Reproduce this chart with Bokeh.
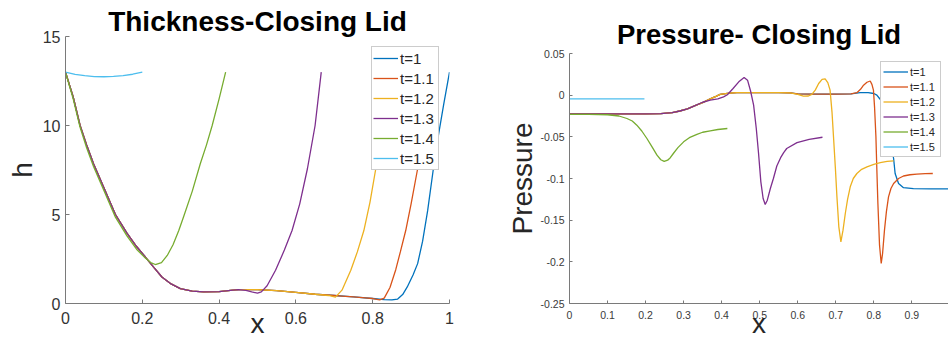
from bokeh.plotting import figure
from bokeh.layouts import row
from bokeh.models import FixedTicker, Range1d
from bokeh.embed import file_html
from bokeh.resources import INLINE

# ---------------- data: Thickness (h vs x) ----------------
labels = ["t=1", "t=1.1", "t=1.2", "t=1.3", "t=1.4", "t=1.5"]
colors = ["#0072BD", "#D95319", "#EDB120", "#7E2F8E", "#77AC30", "#4DBEEE"]

h_x_t10 = [0, 0.02, 0.038, 0.055, 0.073, 0.1, 0.13, 0.16, 0.185, 0.208, 0.23, 0.251, 0.275, 0.299, 0.33, 0.36, 0.4, 0.43, 0.45,
           0.5, 0.55, 0.6, 0.65, 0.7, 0.75, 0.8, 0.83, 0.85, 0.865, 0.878, 0.89, 0.905, 0.917, 0.93, 0.943, 0.958, 0.97, 0.985, 1.0]
h_t10 = [13, 11.6, 10, 8.9, 7.85, 6.5, 5.0, 3.95, 3.2, 2.61, 2.03, 1.49, 1.1, 0.84, 0.7, 0.65, 0.67, 0.74, 0.78,
         0.78, 0.72, 0.62, 0.52, 0.45, 0.37, 0.28, 0.22, 0.2, 0.25, 0.5, 0.93, 1.6, 2.24, 3.5, 5.2, 7.57, 9.3, 11.2, 13.0]

h_x_t11 = [0, 0.02, 0.038, 0.055, 0.073, 0.1, 0.13, 0.16, 0.185, 0.208, 0.23, 0.251, 0.275, 0.299, 0.33, 0.36, 0.4, 0.43, 0.45,
           0.5, 0.55, 0.6, 0.65, 0.7, 0.72, 0.75, 0.78, 0.8, 0.818, 0.83, 0.845, 0.86, 0.872, 0.886, 0.9, 0.917, 0.935, 0.952]
h_t11 = [13, 11.6, 10, 8.9, 7.85, 6.5, 5.0, 3.95, 3.2, 2.61, 2.03, 1.49, 1.1, 0.84, 0.7, 0.65, 0.67, 0.74, 0.78,
         0.78, 0.72, 0.62, 0.52, 0.45, 0.42, 0.37, 0.32, 0.28, 0.2, 0.3, 0.9, 1.9, 2.9, 4.1, 5.6, 7.57, 10.2, 13.0]

h_x_t12 = [0, 0.02, 0.038, 0.055, 0.073, 0.1, 0.13, 0.16, 0.185, 0.208, 0.23, 0.251, 0.275, 0.299, 0.33, 0.36, 0.4, 0.43, 0.45,
           0.5, 0.55, 0.6, 0.65, 0.685, 0.703, 0.72, 0.743, 0.76, 0.777, 0.793, 0.808, 0.825, 0.84]
h_t12 = [13, 11.6, 10, 8.9, 7.85, 6.5, 5.0, 3.95, 3.2, 2.61, 2.03, 1.49, 1.1, 0.84, 0.7, 0.65, 0.67, 0.74, 0.78,
         0.78, 0.72, 0.62, 0.52, 0.45, 0.36, 0.75, 1.87, 2.9, 4.1, 5.7, 7.57, 10.2, 13.0]

h_x_t13 = [0, 0.02, 0.038, 0.055, 0.073, 0.1, 0.13, 0.16, 0.185, 0.208, 0.23, 0.251, 0.275, 0.299, 0.33, 0.36, 0.4, 0.43, 0.45,
           0.47, 0.485, 0.5, 0.51, 0.525, 0.547, 0.57, 0.59, 0.61, 0.63, 0.65, 0.666]
h_t13 = [13, 11.6, 10, 8.9, 7.85, 6.5, 5.0, 3.95, 3.2, 2.61, 2.03, 1.49, 1.1, 0.84, 0.7, 0.65, 0.67, 0.74, 0.78,
         0.74, 0.65, 0.58, 0.65, 1.0, 1.87, 3.0, 4.1, 5.6, 7.57, 10.0, 13.0]

h_x_t14 = [0, 0.02, 0.038, 0.055, 0.073, 0.1, 0.13, 0.16, 0.185, 0.208, 0.222, 0.234, 0.25, 0.265, 0.28, 0.295, 0.308,
           0.33, 0.351, 0.367, 0.382, 0.4, 0.417]
h_t14 = [13, 11.5, 9.9, 8.75, 7.7, 6.35, 4.85, 3.8, 3.05, 2.55, 2.3, 2.19, 2.3, 2.7, 3.3, 4.1, 4.9,
         6.3, 7.85, 8.9, 10.0, 11.5, 13.0]

h_x_t15 = [0, 0.025, 0.05, 0.075, 0.1, 0.125, 0.15, 0.175, 0.2]
h_t15 = [13.0, 12.87, 12.8, 12.75, 12.74, 12.76, 12.8, 12.88, 13.0]

h_x_ticks = [0, 0.2, 0.4, 0.6, 0.8, 1]
h_x_tick_labels = ["0", "0.2", "0.4", "0.6", "0.8", "1"]
h_y_ticks = [0, 5, 10, 15]
h_y_tick_labels = ["0", "5", "10", "15"]

# ---------------- data: Pressure (p vs x) ----------------
p_x_t10 = [0, 0.05, 0.1, 0.15, 0.2, 0.24, 0.27, 0.29, 0.31, 0.33, 0.35, 0.37, 0.385, 0.396, 0.42, 0.44, 0.5, 0.55, 0.58,
           0.6, 0.65, 0.7, 0.74, 0.764, 0.785, 0.8, 0.808, 0.815, 0.821, 0.83, 0.838, 0.845, 0.852, 0.856, 0.865,
           0.878, 0.904, 0.95, 1.0]
p_t10 = [-0.0225, -0.0225, -0.0225, -0.0225, -0.0225, -0.0222, -0.021, -0.019, -0.0165, -0.0125, -0.009, -0.0045,
         -0.0015, 0.001, 0.0025, 0.003, 0.003, 0.003, 0.0028,
         0.0015, 0.0012, 0.0012, 0.0015, 0.003, 0.003, 0.002, 0.0, -0.004, -0.008, -0.02, -0.04, -0.058, -0.076,
         -0.094, -0.106, -0.111, -0.1122, -0.1124, -0.1124]

p_x_t11 = [0, 0.05, 0.1, 0.15, 0.2, 0.24, 0.27, 0.29, 0.31, 0.33, 0.35, 0.37, 0.385, 0.396, 0.42, 0.44, 0.5, 0.55, 0.58,
           0.6, 0.65, 0.7, 0.74, 0.7555, 0.765, 0.773, 0.782, 0.7905, 0.795, 0.799, 0.802, 0.8055, 0.808, 0.8107,
           0.815, 0.8194, 0.823, 0.828, 0.833, 0.8386, 0.845, 0.852, 0.865, 0.878, 0.895, 0.913, 0.935, 0.955]
p_t11 = [-0.0225, -0.0225, -0.0225, -0.0225, -0.0225, -0.0222, -0.021, -0.019, -0.0165, -0.0125, -0.009, -0.0045,
         -0.0015, 0.001, 0.0025, 0.003, 0.003, 0.003, 0.0028,
         0.0015, 0.0012, 0.0012, 0.0015, 0.003, 0.007, 0.012, 0.0155, 0.017, 0.013, 0.006, -0.015, -0.05, -0.09,
         -0.13, -0.18, -0.202, -0.19, -0.162, -0.14, -0.122, -0.112, -0.106, -0.1, -0.097, -0.0955, -0.0948,
         -0.0942, -0.094]

p_x_t12 = [0, 0.05, 0.1, 0.15, 0.2, 0.24, 0.27, 0.29, 0.31, 0.33, 0.35, 0.37, 0.385, 0.396, 0.42, 0.44, 0.5, 0.55, 0.58,
           0.6, 0.615, 0.628, 0.637, 0.646, 0.655, 0.664, 0.672, 0.679, 0.685, 0.69, 0.694, 0.699, 0.703, 0.708,
           0.7134, 0.719, 0.725, 0.731, 0.738, 0.746, 0.7555, 0.768, 0.782, 0.8, 0.817, 0.835, 0.852]
p_t12 = [-0.0225, -0.0225, -0.0225, -0.0225, -0.0225, -0.0222, -0.021, -0.019, -0.0165, -0.0125, -0.009, -0.0045,
         -0.0015, 0.001, 0.0025, 0.003, 0.003, 0.003, 0.0028,
         0.001, -0.0012, -0.001, 0.001, 0.006, 0.014, 0.019, 0.0195, 0.015, 0.006, -0.02, -0.05, -0.088, -0.122,
         -0.158, -0.176, -0.162, -0.142, -0.125, -0.11, -0.1, -0.094, -0.089, -0.086, -0.083, -0.081, -0.0795,
         -0.0788]

p_x_t13 = [0, 0.05, 0.1, 0.15, 0.2, 0.24, 0.27, 0.29, 0.31, 0.33, 0.35, 0.37, 0.39, 0.405, 0.415, 0.43, 0.445, 0.459,
           0.468, 0.476, 0.484, 0.491, 0.497, 0.503, 0.509, 0.5145, 0.52, 0.528, 0.536, 0.545, 0.555, 0.563,
           0.571, 0.598, 0.63, 0.665]
p_t13 = [-0.0225, -0.0225, -0.0225, -0.0225, -0.0225, -0.0222, -0.021, -0.019, -0.0165, -0.0125, -0.0085, -0.006,
         -0.0045, -0.002, 0.0005, 0.008, 0.016, 0.0212, 0.018, 0.005, -0.012, -0.04, -0.07, -0.104, -0.124,
         -0.1312, -0.126, -0.112, -0.1, -0.085, -0.075, -0.069, -0.064, -0.057, -0.053, -0.0505]

p_x_t14 = [0, 0.05, 0.1, 0.13, 0.151, 0.165, 0.177, 0.19, 0.2035, 0.217, 0.23, 0.24, 0.249, 0.258, 0.265, 0.273,
           0.285, 0.3, 0.315, 0.335, 0.35, 0.37, 0.39, 0.415]
p_t14 = [-0.023, -0.023, -0.0235, -0.025, -0.028, -0.031, -0.036, -0.043, -0.052, -0.062, -0.072, -0.0775, -0.0795,
         -0.078, -0.075, -0.07, -0.063, -0.056, -0.051, -0.047, -0.0445, -0.0428, -0.0412, -0.04]

p_x_t15 = [0, 0.05, 0.1, 0.15, 0.197]
p_t15 = [-0.0045, -0.0045, -0.0045, -0.0045, -0.0045]

p_x_ticks = [0, 0.1, 0.2, 0.3, 0.4, 0.5, 0.6, 0.7, 0.8, 0.9]
p_x_tick_labels = ["0", "0.1", "0.2", "0.3", "0.4", "0.5", "0.6", "0.7", "0.8", "0.9"]
p_y_ticks = [-0.25, -0.2, -0.15, -0.1, -0.05, 0, 0.05]
p_y_tick_labels = ["-0.25", "-0.2", "-0.15", "-0.1", "-0.05", "0", "0.05"]

FONT = "Liberation Sans"
AXIS_COLOR = "#7a7a7a"
LABEL_COLOR = "#262626"


def style_axes(p, tick_size, tick_color, tick_in, x_standoff, y_standoff):
    for ax in (p.xaxis[0], p.yaxis[0]):
        ax.axis_line_color = AXIS_COLOR
        ax.major_tick_line_color = AXIS_COLOR
        ax.minor_tick_line_color = None
        ax.major_tick_in = tick_in
        ax.major_tick_out = 0
        ax.major_label_text_font = FONT
        ax.major_label_text_font_size = tick_size
        ax.major_label_text_color = tick_color
        ax.axis_label_text_font = FONT
        ax.axis_label_text_font_size = "28px"
        ax.axis_label_text_font_style = "normal"
        ax.axis_label_text_color = LABEL_COLOR
    p.xaxis[0].major_label_standoff = x_standoff
    p.yaxis[0].major_label_standoff = y_standoff
    p.xaxis[0].axis_label_text_line_height = 0.8
    p.xgrid.grid_line_color = None
    p.ygrid.grid_line_color = None
    p.outline_line_color = None


def style_legend(lg, size, row_h, pad, label_w):
    lg.padding = pad
    lg.spacing = 0
    lg.glyph_width = 25
    lg.glyph_height = row_h
    lg.label_height = row_h
    lg.label_width = label_w
    lg.label_standoff = 2
    lg.label_text_font = FONT
    lg.label_text_font_size = size
    lg.label_text_color = LABEL_COLOR
    lg.border_line_color = "#9a9a9a"
    lg.border_line_width = 1
    lg.background_fill_color = "white"
    lg.background_fill_alpha = 1.0


# ---------------- left figure ----------------
p1 = figure(width=474, height=341, output_backend="svg", toolbar_location=None,
            x_range=Range1d(0, 1), y_range=Range1d(0, 15),
            min_border_left=65, min_border_right=25, min_border_top=36, min_border_bottom=38)
p1.frame_align = False
p1.title.text = "Thickness-Closing Lid"
p1.title.align = "center"
p1.title.text_font = FONT
p1.title.text_font_size = "28px"
p1.title.text_font_style = "bold"
p1.title.text_color = "#000000"
p1.title.standoff = 0

h_xs = [h_x_t10, h_x_t11, h_x_t12, h_x_t13, h_x_t14, h_x_t15]
h_ys = [h_t10, h_t11, h_t12, h_t13, h_t14, h_t15]
for xs, ys, c, lab in zip(h_xs, h_ys, colors, labels):
    p1.line(xs, ys, line_color=c, line_width=1.3, legend_label=lab)

style_axes(p1, "16px", "#333333", 4, 8, 5)
p1.xaxis[0].ticker = FixedTicker(ticks=h_x_ticks)
p1.xaxis[0].major_label_overrides = dict(zip(h_x_ticks, h_x_tick_labels))
p1.yaxis[0].ticker = FixedTicker(ticks=h_y_ticks)
p1.yaxis[0].major_label_overrides = dict(zip(h_y_ticks, h_y_tick_labels))
p1.yaxis[0].axis_label = "h"
p1.yaxis[0].axis_label_standoff = 2
p1.xaxis[0].axis_label = "x"
p1.xaxis[0].axis_label_standoff = -19

lg1 = p1.legend[0]
lg1.location = "top_right"
lg1.margin = 10
style_legend(lg1, "15px", 20, 1, 37)

# ---------------- right figure ----------------
p2 = figure(width=474, height=341, output_backend="svg", toolbar_location=None,
            x_range=Range1d(0, 0.9963), y_range=Range1d(-0.25, 0.05),
            min_border_left=95, min_border_right=0, min_border_top=53, min_border_bottom=38)
p2.frame_align = False
p2.title.text = "Pressure- Closing Lid"
p2.title.align = "center"
p2.title.text_font = FONT
p2.title.text_font_size = "27.5px"
p2.title.text_font_style = "bold"
p2.title.text_color = "#000000"
p2.title.standoff = 7

p_xs = [p_x_t10, p_x_t11, p_x_t12, p_x_t13, p_x_t14, p_x_t15]
p_ys = [p_t10, p_t11, p_t12, p_t13, p_t14, p_t15]
for xs, ys, c, lab in zip(p_xs, p_ys, colors, labels):
    p2.line(xs, ys, line_color=c, line_width=1.3, legend_label=lab)

style_axes(p2, "10.5px", "#3a3a3a", 3, 7, 5)
p2.xaxis[0].ticker = FixedTicker(ticks=p_x_ticks)
p2.xaxis[0].major_label_overrides = dict(zip(p_x_ticks, p_x_tick_labels))
p2.yaxis[0].ticker = FixedTicker(ticks=p_y_ticks)
p2.yaxis[0].major_label_overrides = dict(zip(p_y_ticks, p_y_tick_labels))
p2.yaxis[0].axis_label = "Pressure"
p2.yaxis[0].axis_label_standoff = 0
p2.xaxis[0].axis_label = "x"
p2.xaxis[0].axis_label_standoff = -14

lg2 = p2.legend[0]
lg2.location = (311, 146)
lg2.margin = 0
style_legend(lg2, "11px", 15, 2, 28)

layout = row(p1, p2)
open("out.html", "w").write(file_html(layout, INLINE))
